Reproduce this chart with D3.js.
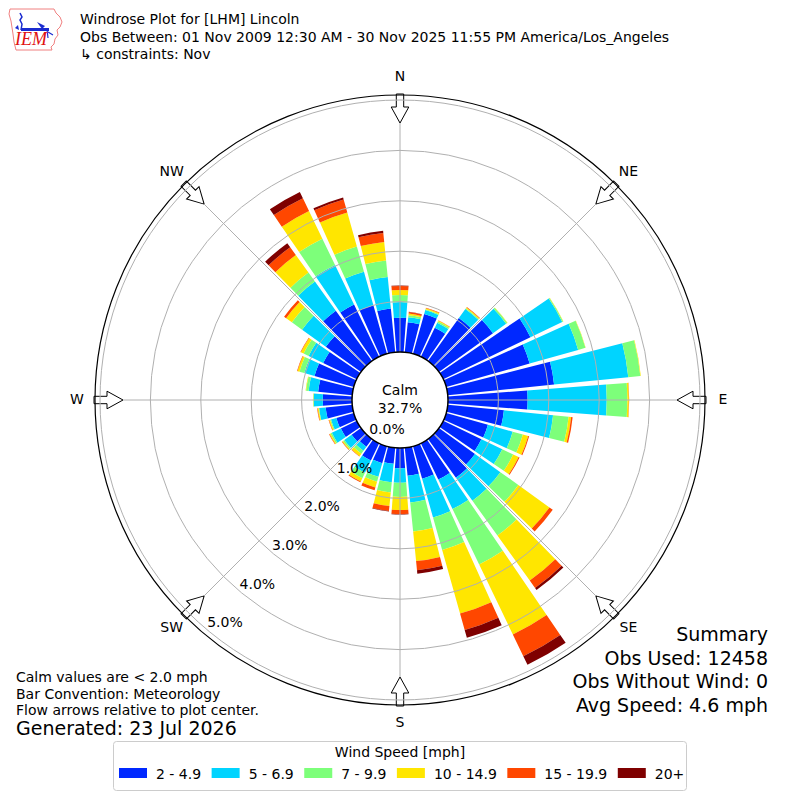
<!DOCTYPE html>
<html><head><meta charset="utf-8">
<script src="https://cdn.jsdelivr.net/npm/d3@7"></script>
<style>
html,body{margin:0;padding:0;background:#fff;}
svg{display:block;font-family:"DejaVu Sans",sans-serif;}
</style></head>
<body>
<svg id="c" width="800" height="800"></svg>
<script>
// ---------------- data ----------------
const directions = [0,10,20,30,40,50,60,70,80,90,100,110,120,130,140,150,160,170,180,190,200,210,220,230,240,250,260,270,280,290,300,310,320,330,340,350];
const speedBins = ["2 - 4.9","5 - 6.9","7 - 9.9","10 - 14.9","15 - 19.9","20+"];
const binColors = ["#0028ff","#00d4ff","#7dff7a","#ffe600","#ff4700","#7f0000"];
const s2to5   = [0.68,0.60,0.82,0.64,1.05,1.32,1.92,1.72,2.12,1.58,1.12,0.86,0.84,0.88,0.95,0.80,0.67,0.56,0.40,0.32,0.35,0.38,0.19,0.23,0.35,0.36,0.53,0.58,0.68,0.81,0.74,0.86,1.23,1.15,1.00,0.87];
const s5to7   = [0.31,0.10,0.08,0.11,0.22,0.32,0.70,1.00,1.48,1.57,0.98,0.51,0.46,0.62,0.56,0.65,0.80,0.53,0.29,0.37,0.28,0.27,0.10,0.18,0.20,0.11,0.13,0.18,0.19,0.21,0.32,0.58,0.71,0.87,0.69,0.63];
const s7to10  = [0.14,0.04,0.02,0.03,0.02,0.03,0.02,0.15,0.24,0.41,0.31,0.21,0.24,0.44,0.85,1.22,0.67,0.58,0.28,0.20,0.10,0.12,0.07,0.03,0.03,0.02,0.01,0.01,0.05,0.10,0.11,0.25,0.22,0.58,0.52,0.33];
const s10to15 = [0.10,0.03,0.02,0.02,0.02,0.005,0.005,0.005,0.01,0.03,0.05,0.11,0.12,0.76,1.10,1.54,1.31,0.59,0.26,0.27,0.12,0.07,0.06,0.02,0.02,0.02,0.02,0.005,0.01,0.04,0.06,0.14,0.43,0.61,0.70,0.37];
const s15to20 = [0.08,0.03,0.01,0.005,0.01,0,0,0,0,0.005,0.03,0.02,0.02,0.08,0.18,0.48,0.34,0.18,0.08,0.10,0.06,0.02,0.01,0.01,0.01,0.01,0.01,0,0,0.01,0.01,0.05,0.19,0.28,0.27,0.18];
const s20plus = [0.01,0.005,0,0,0,0,0,0,0,0,0,0,0,0,0.05,0.19,0.16,0.07,0.01,0.01,0,0,0,0,0,0,0,0,0,0,0,0,0.10,0.14,0.04,0.04];
const rTicks = [0,1,2,3,4,5];
const compassLabels = ["N","NE","E","SE","S","SW","W","NW"];
const compassAngles = [0,45,90,135,180,225,270,315];
const calmPct = "32.7%";
const titleLines = ["Windrose Plot for [LHM] Lincoln","Obs Between: 01 Nov 2009 12:30 AM - 30 Nov 2025 11:55 PM America/Los_Angeles"," \u21b3 constraints: Nov"];
const noteLines = ["Calm values are < 2.0 mph","Bar Convention: Meteorology","Flow arrows relative to plot center."];
const generated = "Generated: 23 Jul 2026";
const summaryLines = ["Summary","Obs Used: 12458","Obs Without Wind: 0","Avg Speed: 4.6 mph"];

const series = [s2to5,s5to7,s7to10,s10to15,s15to20,s20plus];

// ---------------- drawing ----------------
const svg = d3.select("#c");
svg.append("rect").attr("width",800).attr("height",800).attr("fill","#fff");
const cx = 400, cy = 400;
const outerR = 305;
const r = d3.scaleLinear().domain([0,5]).range([48,300]);
const rad = d => d*Math.PI/180;
const g = svg.append("g").attr("transform",`translate(${cx},${cy})`);

// stacked rows
const rows = directions.map((d,i)=>{const o={dir:d}; speedBins.forEach((b,j)=>o[b]=series[j][i]); return o;});
const stack = d3.stack().keys(speedBins)(rows);
const halfW = 4.3;
const arc = d3.arc();
stack.forEach((layer,j)=>{
  g.append("g").selectAll("path").data(layer).join("path")
    .attr("fill",binColors[j])
    .attr("d",d=>arc({innerRadius:r(d[0]),outerRadius:r(d[1]),
       startAngle:rad(d.data.dir-halfW),endAngle:rad(d.data.dir+halfW)}));
});

// flow arrows
const arrowW = 3.7, headW = 8.8;
compassAngles.forEach(a=>{
  const pts = [[-arrowW,-306],[arrowW,-306],[arrowW,-293],[headW,-293],[0,-277],[-headW,-293],[-arrowW,-293]];
  g.append("path").attr("d",d3.line()(pts)+"Z")
    .attr("transform",`rotate(${a})`)
    .attr("fill","#fff").attr("stroke","#000").attr("stroke-width",1);
});

// grid
g.append("g").selectAll("circle").data(rTicks.slice(1)).join("circle")
  .attr("r",d=>r(d)).attr("fill","none").attr("stroke","#b0b0b0").attr("stroke-width",1);
g.append("g").selectAll("line").data(compassAngles).join("line")
  .attr("x1",d=>r(0)*Math.sin(rad(d))).attr("y1",d=>-r(0)*Math.cos(rad(d)))
  .attr("x2",d=>277*Math.sin(rad(d))).attr("y2",d=>-277*Math.cos(rad(d)))
  .attr("stroke","#b0b0b0").attr("stroke-width",1);

// outer circle
g.append("circle").attr("r",outerR).attr("fill","none").attr("stroke","#000").attr("stroke-width",1.2);

// calm circle
g.append("circle").attr("r",r(0)).attr("fill","#fff").attr("stroke","#000").attr("stroke-width",1.5);
g.append("text").attr("x",0).attr("y",-5).attr("text-anchor","middle").attr("font-size",14).text("Calm");
g.append("text").attr("x",0).attr("y",13).attr("text-anchor","middle").attr("font-size",14).text(calmPct);

// radial tick labels
const labAng = 220;
g.append("g").selectAll("text").data(rTicks).join("text")
  .attr("x",d=>r(d)*Math.sin(rad(labAng)))
  .attr("y",d=>-r(d)*Math.cos(rad(labAng))-2.5)
  .attr("font-size",14).attr("fill","#000")
  .text(d=>d.toFixed(1)+"%");

// compass labels
g.append("g").selectAll("text").data(compassLabels).join("text")
  .attr("x",(d,i)=>323*Math.sin(rad(compassAngles[i])))
  .attr("y",(d,i)=>-323*Math.cos(rad(compassAngles[i]))+4)
  .attr("text-anchor","middle").attr("font-size",14).text(d=>d);

// title
titleLines.forEach((t,i)=>{
  svg.append("text").attr("x",80).attr("y",24+i*17.5).attr("font-size",14).text(t);
});

// logo
const logo = svg.append("g").attr("transform","translate(9,8)");
logo.append("path").attr("d","M1,1 L45,1 L47,5 L51,9 L53,14 L51,19 L48,22 L49,27 L46,31 L45,36 L42,39 L43,42 L7,42 L5,34 L4,26 L2,13 L0,6 Z")
  .attr("fill","#fff").attr("stroke","#f08080").attr("stroke-width",1);
logo.append("rect").attr("x",12).attr("y",20).attr("width",28).attr("height",3).attr("fill","#1a2bd0");
logo.append("path").attr("d","M11,5 L13,9 L11,12 L13,16 L12,22").attr("fill","none").attr("stroke","#1a2bd0").attr("stroke-width",1.5);
logo.append("path").attr("d","M28,14 L36,18 L33,21 Z").attr("fill","#1a2bd0");
logo.append("path").attr("d","M38,21 L39,30 M39,24 L44,27").attr("fill","none").attr("stroke","#1a2bd0").attr("stroke-width",1.2);
logo.append("path").attr("d","M6,20 L9,17 L10,22 Z").attr("fill","#1a2bd0");
logo.append("text").attr("x",6).attr("y",37).attr("font-family","Liberation Serif, serif").attr("font-style","italic")
  .attr("font-size",18).attr("fill","#e01010").text("IEM");

// notes
noteLines.forEach((t,i)=>{
  svg.append("text").attr("x",16).attr("y",682+i*16.5).attr("font-size",14).text(t);
});
svg.append("text").attr("x",16).attr("y",735).attr("font-size",19).text(generated);

// summary
summaryLines.forEach((t,i)=>{
  svg.append("text").attr("x",768).attr("y",641+i*23.7).attr("text-anchor","end").attr("font-size",19).text(t);
});

// legend
const leg = svg.append("g");
leg.append("rect").attr("x",113.5).attr("y",741.5).attr("width",573).attr("height",49).attr("rx",3)
  .attr("fill","#fff").attr("stroke","#cccccc").attr("stroke-width",1);
leg.append("text").attr("x",400).attr("y",757).attr("text-anchor","middle").attr("font-size",14).text("Wind Speed [mph]");
let lx = 119;
speedBins.forEach((b,i)=>{
  const it = leg.append("g").attr("transform",`translate(${lx},0)`);
  it.append("rect").attr("x",0).attr("y",768).attr("width",28).attr("height",10).attr("fill",binColors[i]);
  const t = it.append("text").attr("x",37).attr("y",779).attr("font-size",14).text(b);
  lx += 37 + t.node().getComputedTextLength() + 10.5;
});
</script>
</body></html>
